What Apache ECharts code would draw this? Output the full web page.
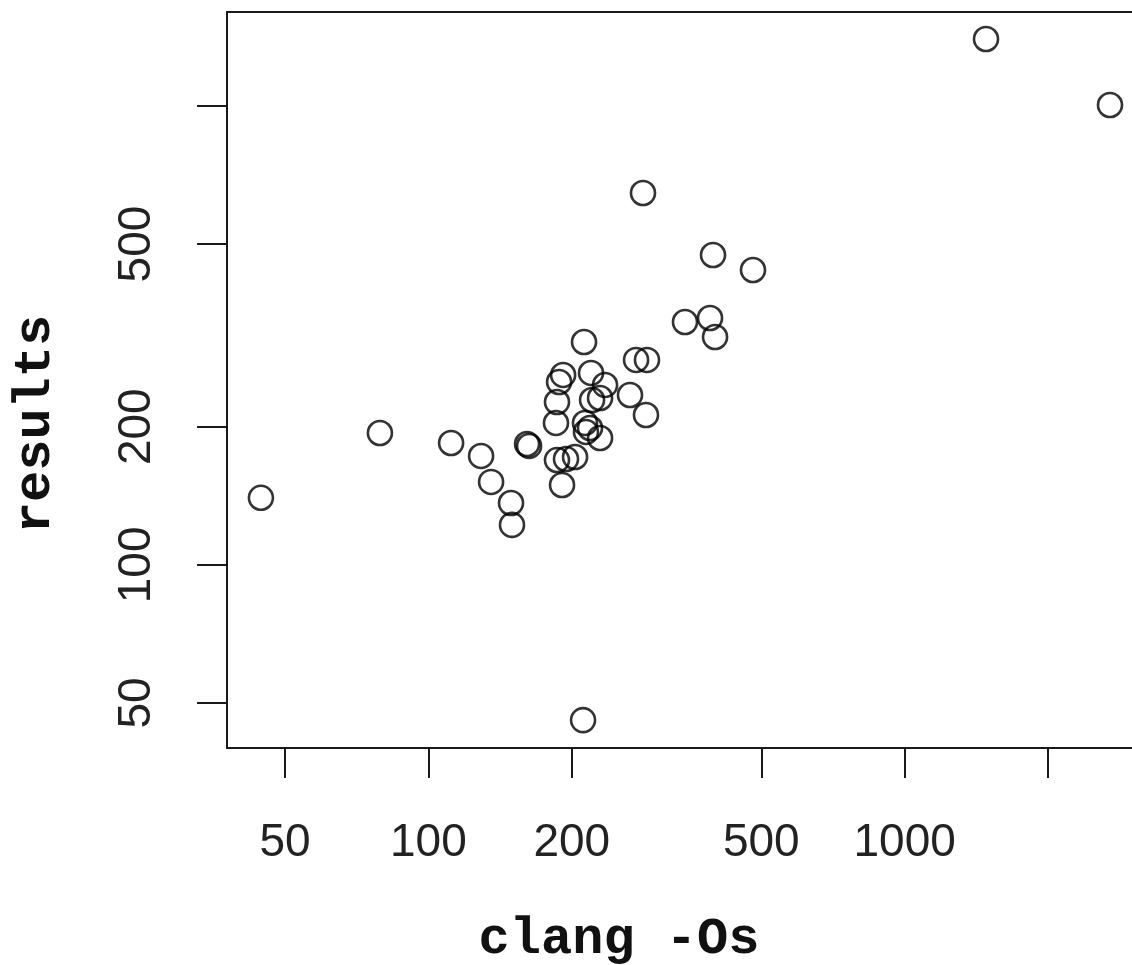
<!DOCTYPE html>
<html>
<head>
<meta charset="utf-8">
<title>results vs clang -Os</title>
<script src="https://cdn.jsdelivr.net/npm/echarts@6/dist/echarts.min.js"></script>
<style>
  html, body { margin: 0; padding: 0; background: #fff; }
  #chart { width: 1132px; height: 965px; }
</style>
</head>
<body>
<div id="chart"></div>
<script>
// Benchmark sizes: clang -Os (x) against results (y), both on log scales
const clangOs = [
  44.5, 79.1, 111.6, 129.0, 135.4, 149.1, 149.8, 161.1, 162.7, 212.2,
  345.7, 272.9, 287.7, 191.8, 188.1, 219.5, 234.9, 265.0, 286.3, 186.2,
  220.6, 229.3, 185.3, 213.2, 218.4, 214.2, 229.3, 186.2, 194.5, 203.2,
  190.8, 282.2, 395.9, 480.3, 390.2, 399.8, 1481.6, 2698, 211.2
];
const results = [
  140.0, 193.8, 184.3, 172.7, 151.6, 136.4, 122.2, 183.4, 181.6, 305.9,
  338.2, 279.6, 279.6, 259.3, 250.3, 261.9, 246.6, 234.5, 212.1, 226.4,
  228.7, 231.0, 203.8, 203.8, 198.7, 194.8, 189.0, 169.2, 170.1, 171.8,
  149.3, 646.1, 473.4, 439.0, 345.1, 313.7, 1399, 1004.8, 45.9
];

// Tick positions and which of them carry a label
const xTicks = [50, 100, 200, 500, 1000, 2000];
const xLabels = [50, 100, 200, 500, 1000];
const yTicks = [50, 100, 200, 500, 1000];
const yLabels = [50, 100, 200, 500];

const points = clangOs.map((x, i) => [x, results[i]]);

const ink = '#1a1a1a';
const frameLine = { show: true, lineStyle: { color: ink, width: 2 } };
const tickFont = { fontFamily: '"Liberation Sans", Arial, sans-serif', fontSize: 46, color: '#222' };
const xRange = { type: 'log', logBase: 10, min: 37.77, max: 3180 };

const chart = echarts.init(document.getElementById('chart'), null, { renderer: 'canvas' });

chart.setOption({
  backgroundColor: '#fff',
  animation: false,
  grid: {
    // the plotting box runs past the right edge of the canvas
    left: 227, top: 12, width: 917, height: 736,
    containLabel: false,
    outerBoundsMode: 'none',
    show: false
  },
  xAxis: [
    Object.assign({
      position: 'bottom',
      axisLine: frameLine,
      splitLine: { show: false },
      minorTick: { show: false },
      axisTick: { show: true, inside: false, length: 30, customValues: xTicks,
        lineStyle: { color: ink, width: 2 } },
      axisLabel: Object.assign({ margin: 72, customValues: xLabels,
        formatter: v => String(v) }, tickFont)
    }, xRange),
    // top edge of the box
    Object.assign({
      position: 'top',
      axisLine: frameLine,
      splitLine: { show: false },
      minorTick: { show: false },
      axisTick: { show: false },
      axisLabel: { show: false }
    }, xRange)
  ],
  yAxis: {
    type: 'log', logBase: 10, min: 39.9, max: 1602,
    axisLine: frameLine,
    splitLine: { show: false },
    minorTick: { show: false },
    axisTick: { show: true, inside: false, length: 30, customValues: yTicks,
      lineStyle: { color: ink, width: 2 } },
    axisLabel: Object.assign({ margin: 67, rotate: 90, customValues: yLabels,
      formatter: v => String(v) }, tickFont)
  },
  series: [{
    type: 'scatter',
    xAxisIndex: 0,
    data: points,
    symbol: 'circle',
    symbolSize: 24,
    itemStyle: { color: 'rgba(0,0,0,0)', borderColor: '#000', borderWidth: 2.6 },
    emphasis: { disabled: true }
  }],
  graphic: [
    {
      type: 'text', x: 619, y: 940,
      style: { text: 'clang -Os', fontFamily: '"Liberation Mono", "Courier New", monospace',
        fontWeight: 'bold', fontSize: 52, fill: '#111', align: 'center', verticalAlign: 'middle' }
    },
    {
      type: 'text', x: 36, y: 424, rotation: Math.PI / 2,
      style: { text: 'results', fontFamily: '"Liberation Mono", "Courier New", monospace',
        fontWeight: 'bold', fontSize: 52, fill: '#111', align: 'center', verticalAlign: 'middle' }
    }
  ]
});
</script>
</body>
</html>
